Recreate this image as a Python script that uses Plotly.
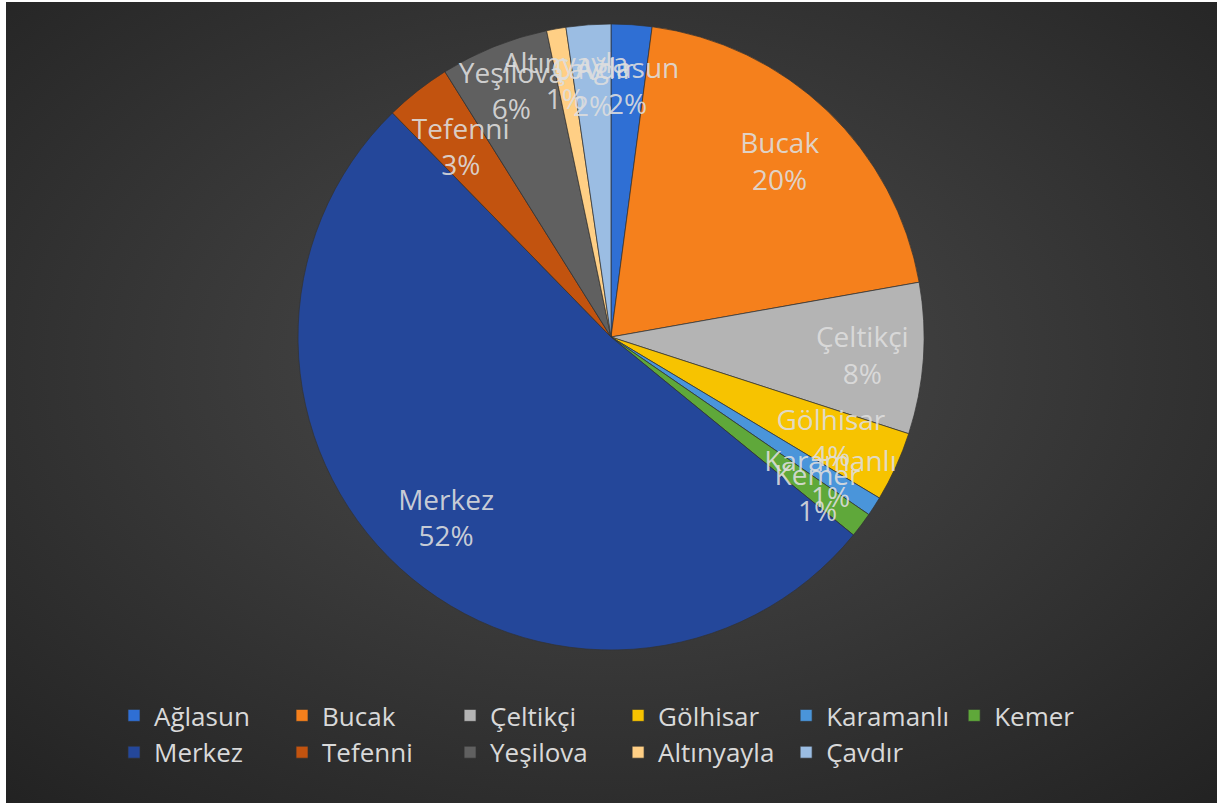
import base64
import plotly.graph_objects as go

labels = ["Ağlasun", "Bucak", "Çeltikçi", "Gölhisar", "Karamanlı", "Kemer",
          "Merkez", "Tefenni", "Yeşilova", "Altınyayla", "Çavdır"]
values = [2.1, 20.1, 7.8, 3.6, 1.0, 1.3, 51.8, 3.4, 5.6, 1.0, 2.3]
colors = ["#2f6fd4", "#f5801c", "#b4b4b4", "#f7c300", "#4a95da", "#5fa83a",
          "#24479a", "#c2530f", "#606060", "#ffcf85", "#9bbde3"]

W, H = 1217, 803
ML, MR = 70, 77            # plot-area margins (px)
PW = W - ML - MR           # plot-area width

svg = f'''<svg xmlns="http://www.w3.org/2000/svg" width="{W}" height="{H}" viewBox="0 0 {W} {H}">
<defs><radialGradient id="g" cx="50%" cy="45%" r="75%">
<stop offset="0%" stop-color="#4c4c4c"/>
<stop offset="100%" stop-color="#222222"/>
</radialGradient></defs>
<rect width="{W}" height="{H}" fill="url(#g)"/></svg>'''
bg_uri = "data:image/svg+xml;base64," + base64.b64encode(svg.encode()).decode()

cx, cy, r = 611, 337, 313


def dom(rad):
    return dict(x=[(cx - rad - ML) / PW, (cx + rad - ML) / PW],
                y=[(H - cy - rad) / H, (H - cy + rad) / H])


tpl = "%{label}<br>%{percent:.0%}"
big = [tpl if v >= 5 else "" for v in values]
small = [tpl if v < 5 else "" for v in values]
label_font = dict(color="rgba(222,222,222,0.9)", size=28, family="Open Sans")
clear = dict(colors=["rgba(0,0,0,0)"] * len(labels), line=dict(width=0))

# filled pie (slices + legend)
fig = go.Figure(go.Pie(
    labels=labels, values=values, sort=False, direction="clockwise", rotation=0,
    marker=dict(colors=colors, line=dict(color="rgba(50,50,50,0.7)", width=1)),
    textinfo="none", hoverinfo="label+percent", domain=dom(r),
))

# transparent rings carrying the data labels
fig.add_trace(go.Pie(
    labels=labels, values=values, sort=False, direction="clockwise", rotation=0,
    hole=0.56, marker=clear, texttemplate=big, textposition="inside",
    insidetextorientation="horizontal", insidetextfont=label_font,
    hoverinfo="skip", showlegend=False, domain=dom(r),
))
fig.add_trace(go.Pie(
    labels=labels, values=values, sort=False, direction="clockwise", rotation=0,
    hole=0.5, marker=clear, texttemplate=small, textposition="inside",
    insidetextorientation="horizontal", insidetextfont=label_font,
    hoverinfo="skip", showlegend=False, domain=dom(r * 0.86),
))

fig.update_layout(
    width=W, height=H,
    margin=dict(l=ML, r=MR, t=0, b=0),
    paper_bgcolor="white",
    plot_bgcolor="rgba(0,0,0,0)",
    uniformtext=dict(minsize=28, mode="show"),
    font=dict(family="Open Sans", color="#d9d9d9"),
    images=[dict(source=bg_uri, xref="paper", yref="paper",
                 x=(6 - ML) / PW, y=1 - 2 / H,
                 sizex=(W - 6) / PW, sizey=1 - 2 / H, sizing="stretch",
                 xanchor="left", yanchor="top", layer="below")],
    legend=dict(
        orientation="h",
        x=(114 - ML) / PW, xanchor="left",
        y=(H - 692) / H, yanchor="top",
        font=dict(size=26, color="#d9d9d9", family="Open Sans"),
        bgcolor="rgba(0,0,0,0)",
    ),
    showlegend=True,
)

fig.write_html("out.html", config={"displayModeBar": False},
               post_script="document.body.style.margin='0';")
